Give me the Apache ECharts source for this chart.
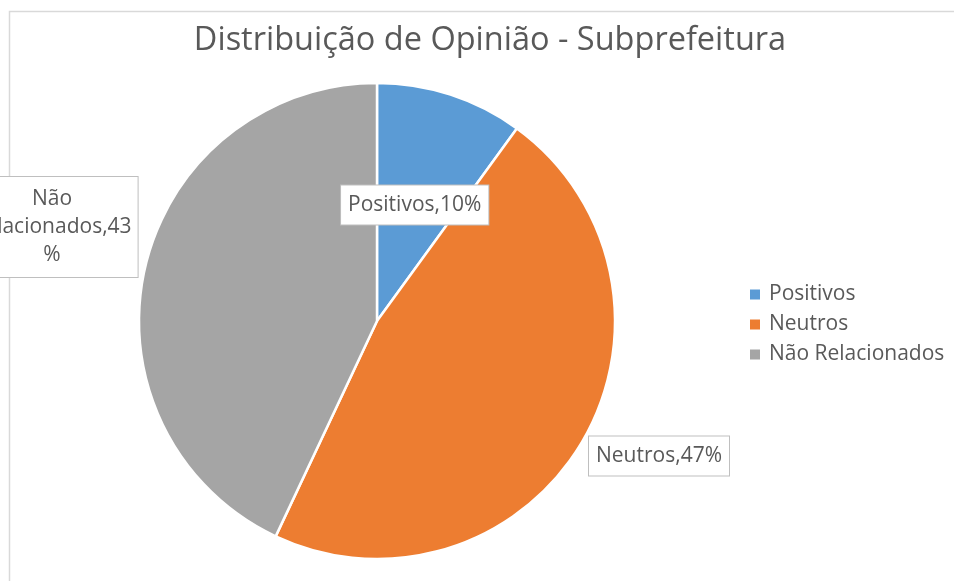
<!DOCTYPE html>
<html>
<head>
<meta charset="utf-8">
<script src="https://cdn.jsdelivr.net/npm/echarts@6/dist/echarts.min.js"></script>
<style>
html, body { margin: 0; padding: 0; background: #fff; }
#main { width: 954px; height: 581px; }
</style>
</head>
<body>
<div id="main"></div>
<script>
// dados do gráfico
var categorias = ['Positivos', 'Neutros', 'Não Relacionados'];
var percentuais = [10, 47, 43];
var cores = ['#5B9BD5', '#ED7D31', '#A5A5A5'];

var myChart = echarts.init(document.getElementById('main'));

var dados = categorias.map(function (nome, i) {
	var item = { name: nome, value: percentuais[i], itemStyle: { color: cores[i] } };
	if (i === 2) {
		// rótulo quebrado em linhas, como no original
		item.label = {
			lineHeight: 28,
			padding: [8, 6],
			formatter: function (p) { return p.name.replace(' ', '\n') + ',' + p.value + '\n%'; }
		};
	}
	return item;
});

var caixa = {
	backgroundColor: '#fff',
	borderColor: '#BFBFBF',
	borderWidth: 1,
	padding: [9, 7]
};

option = {
	backgroundColor: '#fff',
	animation: false,
	graphic: [{
		type: 'rect',
		shape: { x: 9.5, y: 11.5, width: 1000, height: 700 },
		style: { fill: 'none', stroke: '#D9D9D9', lineWidth: 1.5 },
		silent: true
	}],
	title: {
		text: 'Distribuição de Opinião - Subprefeitura',
		left: 485,
		top: 19,
		textAlign: 'center',
		textStyle: { fontFamily: 'Open Sans', fontSize: 32.5, fontWeight: 'normal', color: '#595959' }
	},
	legend: {
		orient: 'vertical',
		left: 748,
		top: 284,
		padding: 0,
		itemWidth: 12,
		itemHeight: 12,
		itemGap: 9,
		icon: 'rect',
		data: categorias,
		textStyle: { fontFamily: 'Open Sans', fontSize: 21, color: '#595959', padding: [0, 0, 0, 3] }
	},
	series: [{
		name: 'Opinião',
		type: 'pie',
		center: [377, 321],
		radius: [0, 238],
		startAngle: 90,
		clockwise: true,
		itemStyle: { borderColor: '#fff', borderWidth: 2.5 },
		label: Object.assign({
			show: true,
			position: 'inside',
			formatter: function (p) { return p.name + ',' + p.value + '%'; },
			fontFamily: 'Open Sans',
			fontSize: 21,
			color: '#595959',
			align: 'center'
		}, caixa),
		labelLine: { show: false },
		labelLayout: function (p) {
			if (p.dataIndex === 1) return { x: 659, y: 456, align: 'center', verticalAlign: 'middle' };
			if (p.dataIndex === 2) return { x: 52, y: 227, align: 'center', verticalAlign: 'middle' };
			return {};
		},
		data: dados
	}]
};
myChart.setOption(option);
</script>
</body>
</html>
